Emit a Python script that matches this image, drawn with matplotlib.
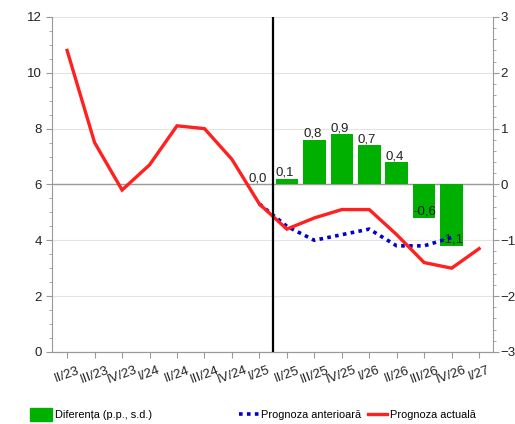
#!/usr/bin/env python3
# -*- coding: UTF-8 -*-

"""
Prognoza: actuala vs anterioara, cu diferenta pe axa din dreapta
"""

import matplotlib
matplotlib.use('agg')
from matplotlib import pyplot as plt
from matplotlib.patches import Patch
from matplotlib.lines import Line2D
from matplotlib.ticker import MultipleLocator

# 数据
quarters = ['II/23', 'III/23', 'IV/23', 'I/24', 'II/24', 'III/24', 'IV/24', 'I/25',
            'II/25', 'III/25', 'IV/25', 'I/26', 'II/26', 'III/26', 'IV/26', 'I/27']
actual = [10.8, 7.5, 5.8, 6.7, 8.1, 8.0, 6.9, 5.3,
          4.4, 4.8, 5.1, 5.1, 4.2, 3.2, 3.0, 3.7]
previous_quarters = ['I/25', 'II/25', 'III/25', 'IV/25', 'I/26', 'II/26', 'III/26', 'IV/26']
previous = [5.3, 4.5, 4.0, 4.2, 4.4, 3.8, 3.8, 4.1]
diff_quarters = ['I/25', 'II/25', 'III/25', 'IV/25', 'I/26', 'II/26', 'III/26', 'IV/26']
diff = [0.0, 0.1, 0.8, 0.9, 0.7, 0.4, -0.6, -1.1]

plt.rcParams['font.family'] = ['Liberation Sans', 'DejaVu Sans']
_fs = 9.5
_leg_fs = 7.9
_grey = '#999999'
_text = '#222222'

_fig = plt.figure(figsize=(5.15, 4.24), dpi=100)
_ax = _fig.add_axes([0.101, 0.170, 0.856, 0.790])
_ax2 = _ax.twinx()

_x = list(range(len(quarters)))
_pos = {q: i for i, q in enumerate(quarters)}

# 右轴: 柱状图 (网格也画在这里, 位于柱子下方)
_bar_w = 0.82
_dx = [_pos[q] for q in diff_quarters]
_ax2.bar(_dx, diff, width=_bar_w, color='#00b000', zorder=2)
_ax2.axhline(0, color=_grey, lw=1, zorder=1)
_ax2.set_ylim(-3, 3)
_ax2.yaxis.set_major_locator(MultipleLocator(1))
_ax2.yaxis.set_minor_locator(MultipleLocator(0.2))
_ax2.grid(True, color='#e4e4e4', lw=0.8, zorder=0)
_ax2.set_axisbelow(True)

# 左轴: 折线
_ax.set_zorder(_ax2.get_zorder() + 1)
_ax.patch.set_visible(False)
_ax.plot(_x, actual, color='#ff2020', lw=2.4, solid_joinstyle='miter', zorder=4)
_ax.plot([_pos[q] for q in previous_quarters], previous, color='#0000cc',
         lw=2.6, linestyle=(0, (1, 1.2)), zorder=3)
_ax.axvline(7.5, color='black', lw=1.6, zorder=5)

# 柱子标签
for _i, _v in zip(_dx, diff):
    _ax2.text(_i - _bar_w / 2, _v, ('%.1f' % _v).replace('.', ','),
              ha='left', va='bottom', fontsize=_fs, color=_text, zorder=5)

_ax.set_xlim(-0.55, 15.5)
_ax.set_ylim(0, 12)
_ax.yaxis.set_major_locator(MultipleLocator(2))
_ax.yaxis.set_minor_locator(MultipleLocator(0.5))
_ax.set_xticks(_x)
_ax.set_xticklabels(quarters, rotation=20, ha='center')

for _a in (_ax, _ax2):
    _a.spines['top'].set_visible(False)
    for _s in ('left', 'right', 'bottom'):
        _a.spines[_s].set_color(_grey)
    _a.tick_params(which='both', colors=_grey, labelcolor=_text, labelsize=_fs)
    _a.tick_params(which='major', length=4)
    _a.tick_params(which='minor', length=2.5)
_ax2.spines['left'].set_visible(False)
_ax.spines['right'].set_visible(False)
_ax2.tick_params(axis='y', pad=1.5)
_ax.tick_params(axis='x', pad=5)

# 图例
_fig.legend(handles=[Patch(color='#00b000', label='Diferența (p.p., s.d.)')],
            loc='center left', bbox_to_anchor=(0.04, 0.022), frameon=False,
            fontsize=_leg_fs, handlelength=2.0, handleheight=1.4, handletextpad=0.2)
_fig.legend(handles=[
    Line2D([], [], color='#0000cc', lw=2.6, linestyle=(0, (1, 1.2)), label='Prognoza anterioară'),
    Line2D([], [], color='#ff2020', lw=2.4, label='Prognoza actuală')],
    loc='center left', bbox_to_anchor=(0.445, 0.022), frameon=False, ncol=2,
    fontsize=_leg_fs, handlelength=1.8, handletextpad=0.2, columnspacing=0.6)

_fig.savefig('out.png', dpi=100)
